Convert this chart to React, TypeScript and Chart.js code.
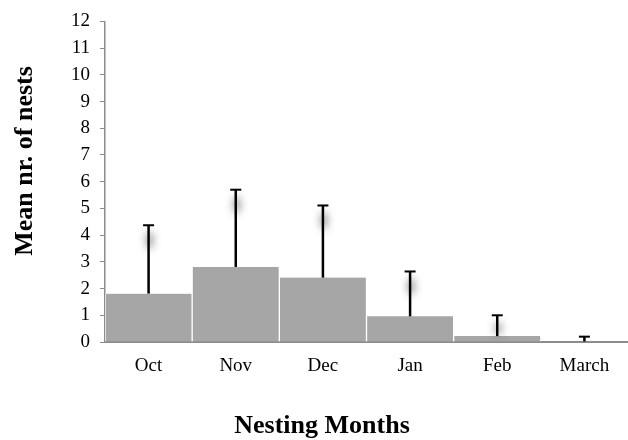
import React, { useEffect, useRef } from "react";
import { Chart, registerables } from "chart.js";

Chart.register(...registerables);

const categories = ["Oct", "Nov", "Dec", "Jan", "Feb", "March"];
const meanValues = [1.81, 2.81, 2.41, 0.96, 0.22, 0.02];
const errorValues = [2.56, 2.89, 2.7, 1.68, 0.78, 0.18];
const yTitle = "Mean nr. of nests";
const xTitle = "Nesting Months";

const serif = "'Liberation Serif', 'Times New Roman', serif";

const errorBarPlugin = {
  id: "errorBars",
  afterDatasetsDraw(chart: any) {
    const ctx = chart.ctx;
    const meta = chart.getDatasetMeta(0);
    const yScale = chart.scales.y;
    ctx.save();
    meta.data.forEach((bar: any, i: number) => {
      const x = bar.x;
      const yBase = yScale.getPixelForValue(meanValues[i]);
      const yTop = yScale.getPixelForValue(meanValues[i] + errorValues[i]);
      const len = yBase - yTop;
      // soft glow near the top of the whisker (shadow only)
      if (len > 8) {
        ctx.save();
        ctx.shadowColor = "rgba(0,0,0,0.7)";
        ctx.shadowBlur = 8;
        ctx.shadowOffsetX = 2001;
        ctx.shadowOffsetY = 0;
        ctx.strokeStyle = "#000";
        ctx.lineWidth = 4;
        ctx.beginPath();
        ctx.moveTo(x - 2000, yTop + 8);
        ctx.lineTo(x - 2000, yTop + Math.min(22, len - 3));
        ctx.stroke();
        ctx.restore();
      }
      ctx.strokeStyle = "#000";
      ctx.lineWidth = 2.5;
      ctx.beginPath();
      ctx.moveTo(x, yBase);
      ctx.lineTo(x, yTop);
      ctx.stroke();
      ctx.lineWidth = 2;
      ctx.beginPath();
      ctx.moveTo(x - 5.5, yTop);
      ctx.lineTo(x + 5.5, yTop);
      ctx.stroke();
    });
    ctx.restore();
  },
};

const titlePlugin = {
  id: "axisTitles",
  afterDraw(chart: any) {
    const ctx = chart.ctx;
    ctx.save();
    ctx.fillStyle = "#000";
    ctx.font = `bold 26px ${serif}`;
    ctx.textAlign = "center";
    ctx.textBaseline = "alphabetic";
    ctx.fillText(xTitle, 322, 433);
    ctx.translate(32, 161);
    ctx.rotate(-Math.PI / 2);
    ctx.fillText(yTitle, 0, 0);
    ctx.restore();
  },
};

export default function App() {
  const ref = useRef<HTMLCanvasElement>(null);
  useEffect(() => {
    if (!ref.current) return;
    const chart = new Chart(ref.current, {
      type: "bar",
      data: {
        labels: categories,
        datasets: [
          {
            data: meanValues,
            backgroundColor: "#a6a6a6",
            borderColor: "#ffffff",
            borderWidth: { left: 1, right: 1, top: 0, bottom: 0 } as any,
            barPercentage: 1,
            categoryPercentage: 1,
          },
        ],
      },
      options: {
        responsive: false,
        animation: false,
        layout: { padding: { top: 18, right: 0, left: 0, bottom: 0 } },
        plugins: { legend: { display: false }, tooltip: { enabled: false } },
        scales: {
          x: {
            grid: { display: false, drawTicks: false },
            border: { color: "#8c8c8c", width: 2 },
            ticks: {
              color: "#000",
              font: { family: serif, size: 19 },
              padding: 13,
              maxRotation: 0,
            },
            afterFit(scale: any) {
              scale.height = 98;
            },
          },
          y: {
            min: 0,
            max: 12,
            grid: {
              drawOnChartArea: false,
              drawTicks: true,
              tickLength: 5,
              color: "#8c8c8c",
            },
            border: { color: "#8c8c8c", width: 1.5 },
            ticks: {
              stepSize: 1,
              color: "#000",
              font: { family: serif, size: 19 },
              padding: 10,
            },
            afterFit(scale: any) {
              scale.width = 105;
            },
          },
        },
      },
      plugins: [errorBarPlugin, titlePlugin],
    });
    return () => chart.destroy();
  }, []);
  return (
    <div style={{ position: "absolute", left: 0, top: 0, width: 628, height: 440, background: "#fff" }}>
      <canvas ref={ref} width={628} height={440} />
    </div>
  );
}
